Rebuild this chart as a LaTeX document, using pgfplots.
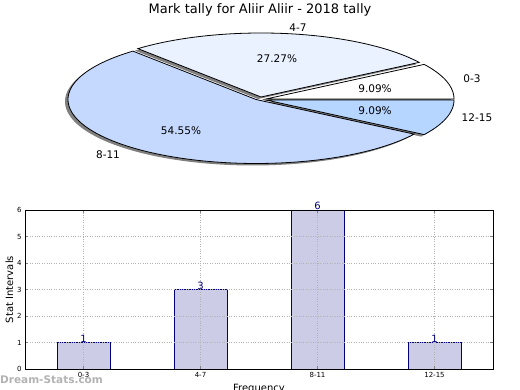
\documentclass[border=0pt]{standalone}
\usepackage{pgfplots}
\pgfplotsset{compat=1.18}
\usepackage{fontspec}
\setmainfont{DejaVu Sans}
\definecolor{sliceA}{RGB}{255,255,255}
\definecolor{sliceB}{RGB}{235,242,255}
\definecolor{sliceC}{RGB}{197,217,255}
\definecolor{sliceD}{RGB}{182,214,255}
\definecolor{barfill}{RGB}{204,204,230}
\definecolor{navyc}{RGB}{0,0,128}
\definecolor{shadowc}{RGB}{128,128,128}
\newcommand\fs[1]{\fontsize{#1}{#1}\selectfont}
\begin{document}
\begin{tikzpicture}
\useasboundingbox (0pt,0pt) rectangle (520pt,-390pt);
% ---------------- pie (values 1,3,6,1 of 11 -> angles) ----------------
\begin{axis}[at={(0pt,-390pt)}, anchor=south west, scale only axis,
  width=520pt, height=390pt, xmin=0, xmax=520, ymin=-390, ymax=0,
  hide axis, clip=false]
% shadows
\addplot[fill=shadowc, draw=none, domain=0:32.727, samples=30] ({263+188*cos(x)},{-101+64*sin(x)}) -- (axis cs:263,-101) -- cycle;
\addplot[fill=shadowc, draw=none, domain=32.727:130.909, samples=60] ({258+188*cos(x)},{-99+64*sin(x)}) -- (axis cs:258,-99) -- cycle;
\addplot[fill=shadowc, draw=none, domain=130.909:327.273, samples=100] ({253+188*cos(x)},{-101.5+64*sin(x)}) -- (axis cs:253,-101.5) -- cycle;
\addplot[fill=shadowc, draw=none, domain=327.273:360, samples=30] ({263+188*cos(x)},{-102+64*sin(x)}) -- (axis cs:263,-102) -- cycle;
% slices
\addplot[fill=sliceA, draw=black, line width=0.8pt, domain=0:32.727, samples=30] ({266+188*cos(x)},{-99+64*sin(x)}) -- (axis cs:266,-99) -- cycle;
\addplot[fill=sliceB, draw=black, line width=0.8pt, domain=32.727:130.909, samples=60] ({261+188*cos(x)},{-97+64*sin(x)}) -- (axis cs:261,-97) -- cycle;
\addplot[fill=sliceC, draw=black, line width=0.8pt, domain=130.909:327.273, samples=100] ({256+188*cos(x)},{-99.5+64*sin(x)}) -- (axis cs:256,-99.5) -- cycle;
\addplot[fill=sliceD, draw=black, line width=0.8pt, domain=327.273:360, samples=30] ({266+188*cos(x)},{-100+64*sin(x)}) -- (axis cs:266,-100) -- cycle;
% texts
\node[anchor=base, font=\fs{13}] at (axis cs:260,-14) {Mark tally for Aliir Aliir - 2018 tally};
\node[anchor=base, font=\fs{10.5}] at (axis cs:277,-63) {27.27\%};
\node[anchor=base, font=\fs{10.5}] at (axis cs:375,-93) {9.09\%};
\node[anchor=base, font=\fs{10.5}] at (axis cs:375,-115) {9.09\%};
\node[anchor=base, font=\fs{10.5}] at (axis cs:181,-135) {54.55\%};
\node[anchor=base, font=\fs{10.5}] at (axis cs:298,-32) {4-7};
\node[anchor=base, font=\fs{10.5}] at (axis cs:472,-83) {0-3};
\node[anchor=base, font=\fs{10.5}] at (axis cs:477,-122) {12-15};
\node[anchor=base, font=\fs{10.5}] at (axis cs:108,-159) {8-11};
\end{axis}
% ---------------- bars ----------------
\begin{axis}[at={(25pt,-369pt)}, anchor=south west, scale only axis,
  width=468pt, height=159pt,
  xmin=-0.5, xmax=3.5, ymin=0, ymax=6,
  xtick={0,1,2,3}, xticklabels={0-3,4-7,8-11,12-15},
  ytick={0,1,2,3,4,5,6},
  /pgf/number format/assume math mode=true,
  ybar, bar width=53pt,
  grid=major, grid style={dotted, gray!60, line width=0.8pt},
  axis on top, axis line style={line width=0.8pt},
  tick label style={font=\fs{7}},
  tick align=inside, major tick length=3pt,
  xlabel={Frequency}, ylabel={Stat Intervals},
  xlabel style={font=\fs{10}, at={(axis description cs:0.5,0)}, anchor=north, yshift=-15pt, inner sep=0pt},
  ylabel style={font=\fs{10}, at={(axis description cs:-0.0246,0.5)}, anchor=south, inner sep=0pt},
  nodes near coords,
  nodes near coords style={anchor=base, inner sep=0pt, font=\fs{10}, text=navyc},
]
\addplot[fill=barfill, draw=navyc, line width=0.9pt] coordinates {(0,1) (1,3) (2,6) (3,1)};
\end{axis}
\node[anchor=west, inner sep=0pt, font=\bfseries\fs{10.5}, text=gray!75, opacity=0.8] at (0pt,-380pt) {Dream-Stats.com};
\end{tikzpicture}
\end{document}
